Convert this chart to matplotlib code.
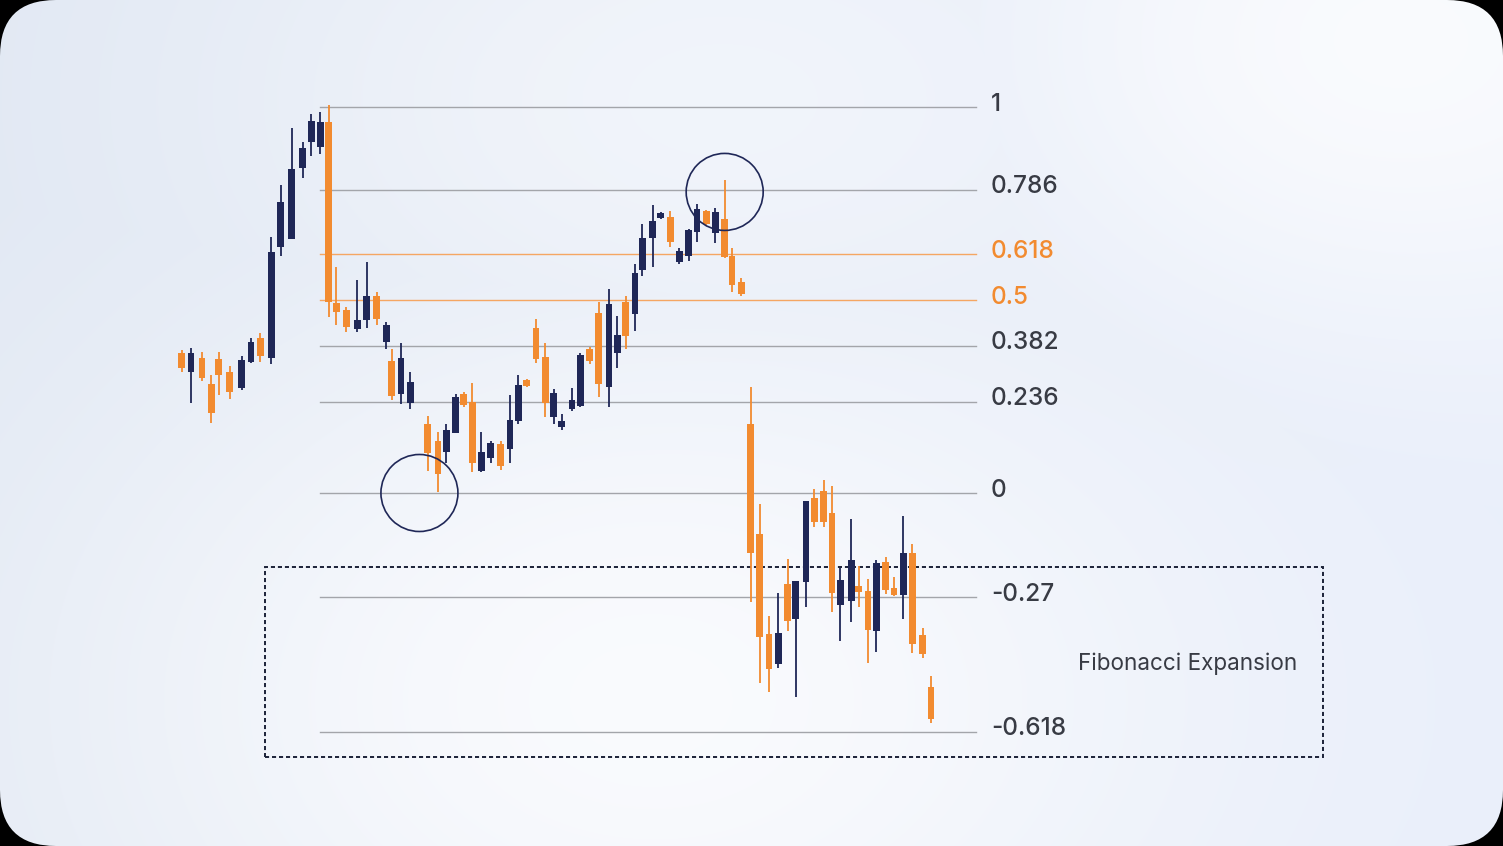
import numpy as np
import matplotlib.pyplot as plt
from matplotlib import patches, transforms

# bar positions (sessions) and OHLC prices
t = [0, 1.0, 2.2, 3.2, 4.0, 5.2, 6.5, 7.5, 8.5, 9.7,
     10.7, 11.9, 13.1, 14.0, 15.0, 15.9, 16.7, 17.8, 19.0, 20.0,
     21.1, 22.1, 22.7, 23.7, 24.7, 26.6, 27.7, 28.6, 29.6, 30.5,
     31.4, 32.4, 33.4, 34.5, 35.5, 36.4, 37.3, 38.3, 39.3, 40.2,
     41.1, 42.2, 43.1, 44.1, 45.1, 46.2, 47.1, 48.0, 49.0, 49.8,
     50.9, 51.8, 52.8, 53.8, 54.8, 55.7, 56.7, 57.7, 58.7, 59.5,
     60.5, 61.5, 62.5, 63.5, 64.5, 65.5, 66.4, 67.5, 68.4, 69.4,
     70.3, 71.2, 72.4, 73.2, 74.2, 75.1, 76.1, 77.0, 78.0, 79.0,
     80.1, 81.0]
opens = [136.2, 131.4, 134.9, 128.2, 134.6, 131.4, 127.1, 134.0, 140.1, 134.9,
         163.8, 165.8, 184.1, 191.0, 189.6, 196.2, 149.1, 147.4, 142.5, 144.8,
         151.0, 139.2, 134.2, 125.7, 123.2, 117.9, 113.5, 110.7, 115.6, 125.6,
         123.7, 105.7, 109.0, 112.7, 111.3, 118.7, 129.3, 142.8, 135.2, 119.8,
         117.0, 121.7, 122.5, 137.2, 146.6, 127.5, 136.3, 149.6, 146.4, 157.8,
         166.0, 171.2, 171.4, 159.9, 161.4, 167.7, 173.1, 167.4, 170.9, 161.5,
         154.7, 117.8, 89.4, 63.5, 55.7, 76.4, 67.3, 77.0, 98.8, 100.6,
         94.7, 71.0, 72.0, 76.0, 74.6, 64.3, 82.0, 75.5, 73.6, 84.4,
         63.2, 49.7]
highs = [137.0, 137.5, 136.5, 130.6, 136.5, 133.0, 135.6, 140.1, 141.4, 166.4,
         179.8, 194.5, 191.0, 198.1, 198.6, 200.5, 158.6, 148.3, 155.2, 159.9,
         152.2, 144.4, 137.2, 138.9, 131.3, 120.0, 115.7, 117.9, 125.6, 126.2,
         128.6, 115.7, 113.5, 113.5, 125.4, 130.6, 129.5, 145.0, 138.9, 126.9,
         120.5, 127.1, 136.2, 137.9, 149.6, 152.8, 145.9, 151.0, 159.3, 169.7,
         174.6, 172.9, 173.1, 163.4, 168.4, 174.8, 173.3, 173.8, 181.1, 163.4,
         155.6, 127.4, 97.2, 68.1, 74.2, 82.9, 77.3, 98.0, 101.0, 103.4,
         101.8, 80.6, 93.2, 81.1, 77.6, 82.6, 83.5, 78.2, 94.0, 86.8,
         64.9, 52.6]
lows = [131.4, 123.2, 129.0, 118.1, 125.4, 124.4, 126.7, 133.6, 134.0, 133.3,
        161.5, 165.8, 181.5, 187.3, 187.7, 145.7, 143.5, 141.8, 141.6, 142.8,
        143.5, 137.2, 124.1, 123.1, 121.7, 105.8, 100.3, 107.7, 115.6, 122.4,
        105.5, 105.5, 107.8, 106.0, 107.8, 117.8, 127.5, 133.8, 119.8, 117.9,
        116.3, 121.3, 122.4, 133.4, 124.9, 122.2, 132.3, 137.2, 142.0, 156.2,
        158.6, 170.9, 163.7, 159.3, 160.2, 165.1, 169.4, 164.8, 160.9, 152.2,
        151.0, 71.8, 50.7, 48.5, 54.6, 64.3, 47.2, 70.4, 91.3, 91.1,
        69.2, 61.7, 66.7, 70.4, 55.9, 58.9, 73.8, 73.3, 67.4, 58.6,
        57.2, 40.3]
closes = [132.3, 136.3, 129.9, 120.6, 130.6, 126.1, 134.5, 139.2, 135.5, 162.4,
          175.3, 183.9, 189.5, 196.4, 196.2, 149.6, 147.0, 143.1, 144.8, 151.0,
          145.1, 143.5, 125.2, 135.1, 128.8, 110.3, 104.9, 116.3, 124.9, 122.8,
          107.8, 110.5, 112.9, 107.0, 118.9, 128.0, 127.7, 134.6, 123.4, 126.0,
          118.7, 124.1, 135.8, 134.3, 128.2, 149.0, 140.9, 140.7, 157.1, 166.0,
          170.5, 172.6, 164.9, 162.7, 168.1, 173.5, 169.7, 172.7, 161.2, 153.9,
          151.6, 84.5, 62.6, 54.4, 63.7, 66.9, 77.3, 98.0, 92.6, 92.6,
          74.0, 77.5, 82.6, 74.3, 64.5, 81.9, 74.9, 73.6, 84.4, 60.9,
          58.3, 41.5]

swing_low = 100.0
swing_high = 200.0
fib_ratios = [1, 0.786, 0.618, 0.5, 0.382, 0.236, 0, -0.27, -0.618]
fib_labels = ["1", "0.786", "0.618", "0.5", "0.382", "0.236", "0", "-0.27", "-0.618"]
fib_highlight = ["0.618", "0.5"]

# circled pivots (session, price)
circle_t = [25.7, 58.7]
circle_p = [100.0, 178.0]

NAVY = "#1f2757"
ORANGE = "#f28b30"
GREY_LINE = "#a3a5aa"
ORANGE_LINE = "#f5a663"
TEXT = "#383b44"

W, H = 1503, 846
fig = plt.figure(figsize=(W / 100, H / 100), dpi=100)
fig.patch.set_facecolor("black")

# card background with soft gradient
bg = fig.add_axes([0, 0, 1, 1])
bg.set_xlim(0, W)
bg.set_ylim(H, 0)
bg.axis("off")
yy, xx = np.mgrid[0:H, 0:W].astype(float)
left_col = np.array([0.882, 0.910, 0.953])
right_col = np.array([0.910, 0.933, 0.980])
white = np.array([0.978, 0.983, 0.994])
fx = (xx / W)[..., None]
base = left_col * (1 - fx) + right_col * fx
g1 = np.exp(-((xx - 650) / 600) ** 2 - ((yy - 700) / 420) ** 2)
g2 = np.exp(-((xx - 1400) / 450) ** 2 - ((yy - 40) / 320) ** 2)
g3 = np.exp(-((xx - 700) / 500) ** 2 - ((yy - 100) / 300) ** 2) * 0.6
w = np.clip(np.maximum(np.maximum(g1, g2), g3), 0, 1)[..., None]
img = base * (1 - w) + white * w
im = bg.imshow(img, extent=(0, W, H, 0), aspect="auto", interpolation="bilinear")
card = patches.FancyBboxPatch((0, 0), W, H, boxstyle="round,pad=0,rounding_size=56",
                              transform=bg.transData, facecolor="none", edgecolor="none")
bg.add_patch(card)
im.set_clip_path(card)

ax = fig.add_axes([0, 0, 1, 1])
ax.patch.set_alpha(0)
ax.axis("off")

cols = [NAVY if c > o else ORANGE for o, c in zip(opens, closes)]
ax.vlines(t, lows, highs, colors=cols, linewidth=1.3, zorder=3)
bottoms = [min(o, c) for o, c in zip(opens, closes)]
heights = [max(abs(c - o), 0.6) for o, c in zip(opens, closes)]
ax.bar(t, heights, bottom=bottoms, width=0.74, color=cols, zorder=4)

# fibonacci levels
label_trans = transforms.offset_copy(ax.get_yaxis_transform(), fig=fig, y=3, units="dots")
for r, lab in zip(fib_ratios, fib_labels):
    price = swing_low + r * (swing_high - swing_low)
    hl = lab in fib_highlight
    ax.axhline(price, xmin=320 / W, xmax=976 / W,
               color=ORANGE_LINE if hl else GREY_LINE, linewidth=1.0, zorder=2)
    ax.text(991 / W, price, lab, transform=label_trans,
            ha="left", va="center", fontsize=17.5, family="Inter", fontweight="medium",
            color=ORANGE if hl else TEXT)

for ct, cp in zip(circle_t, circle_p):
    trans = fig.dpi_scale_trans + transforms.ScaledTranslation(ct, cp, ax.transData)
    ax.add_patch(patches.Circle((0, 0), 0.385, transform=trans, fill=False,
                                edgecolor=NAVY, linewidth=1.2, zorder=5))

# expansion zone box
ax.add_patch(patches.Rectangle((265 / W, (H - 757) / H), (1323 - 265) / W, (757 - 567) / H,
                               transform=ax.transAxes, fill=False, edgecolor="#1c2238",
                               linewidth=1.4, linestyle=(0, (2.1, 1.5)), zorder=2))
ax.text(1188 / W, (H - 664) / H, "Fibonacci Expansion", transform=ax.transAxes,
        ha="center", va="center", fontsize=16.2, family="Inter", color=TEXT)

ax.set_xlim(-181.7 / 9.25, (W - 181.7) / 9.25)
ax.set_ylim(100 - (H - 493) / 3.86, 100 + 493 / 3.86)

fig.savefig("out.png", dpi=100, facecolor=fig.get_facecolor())
